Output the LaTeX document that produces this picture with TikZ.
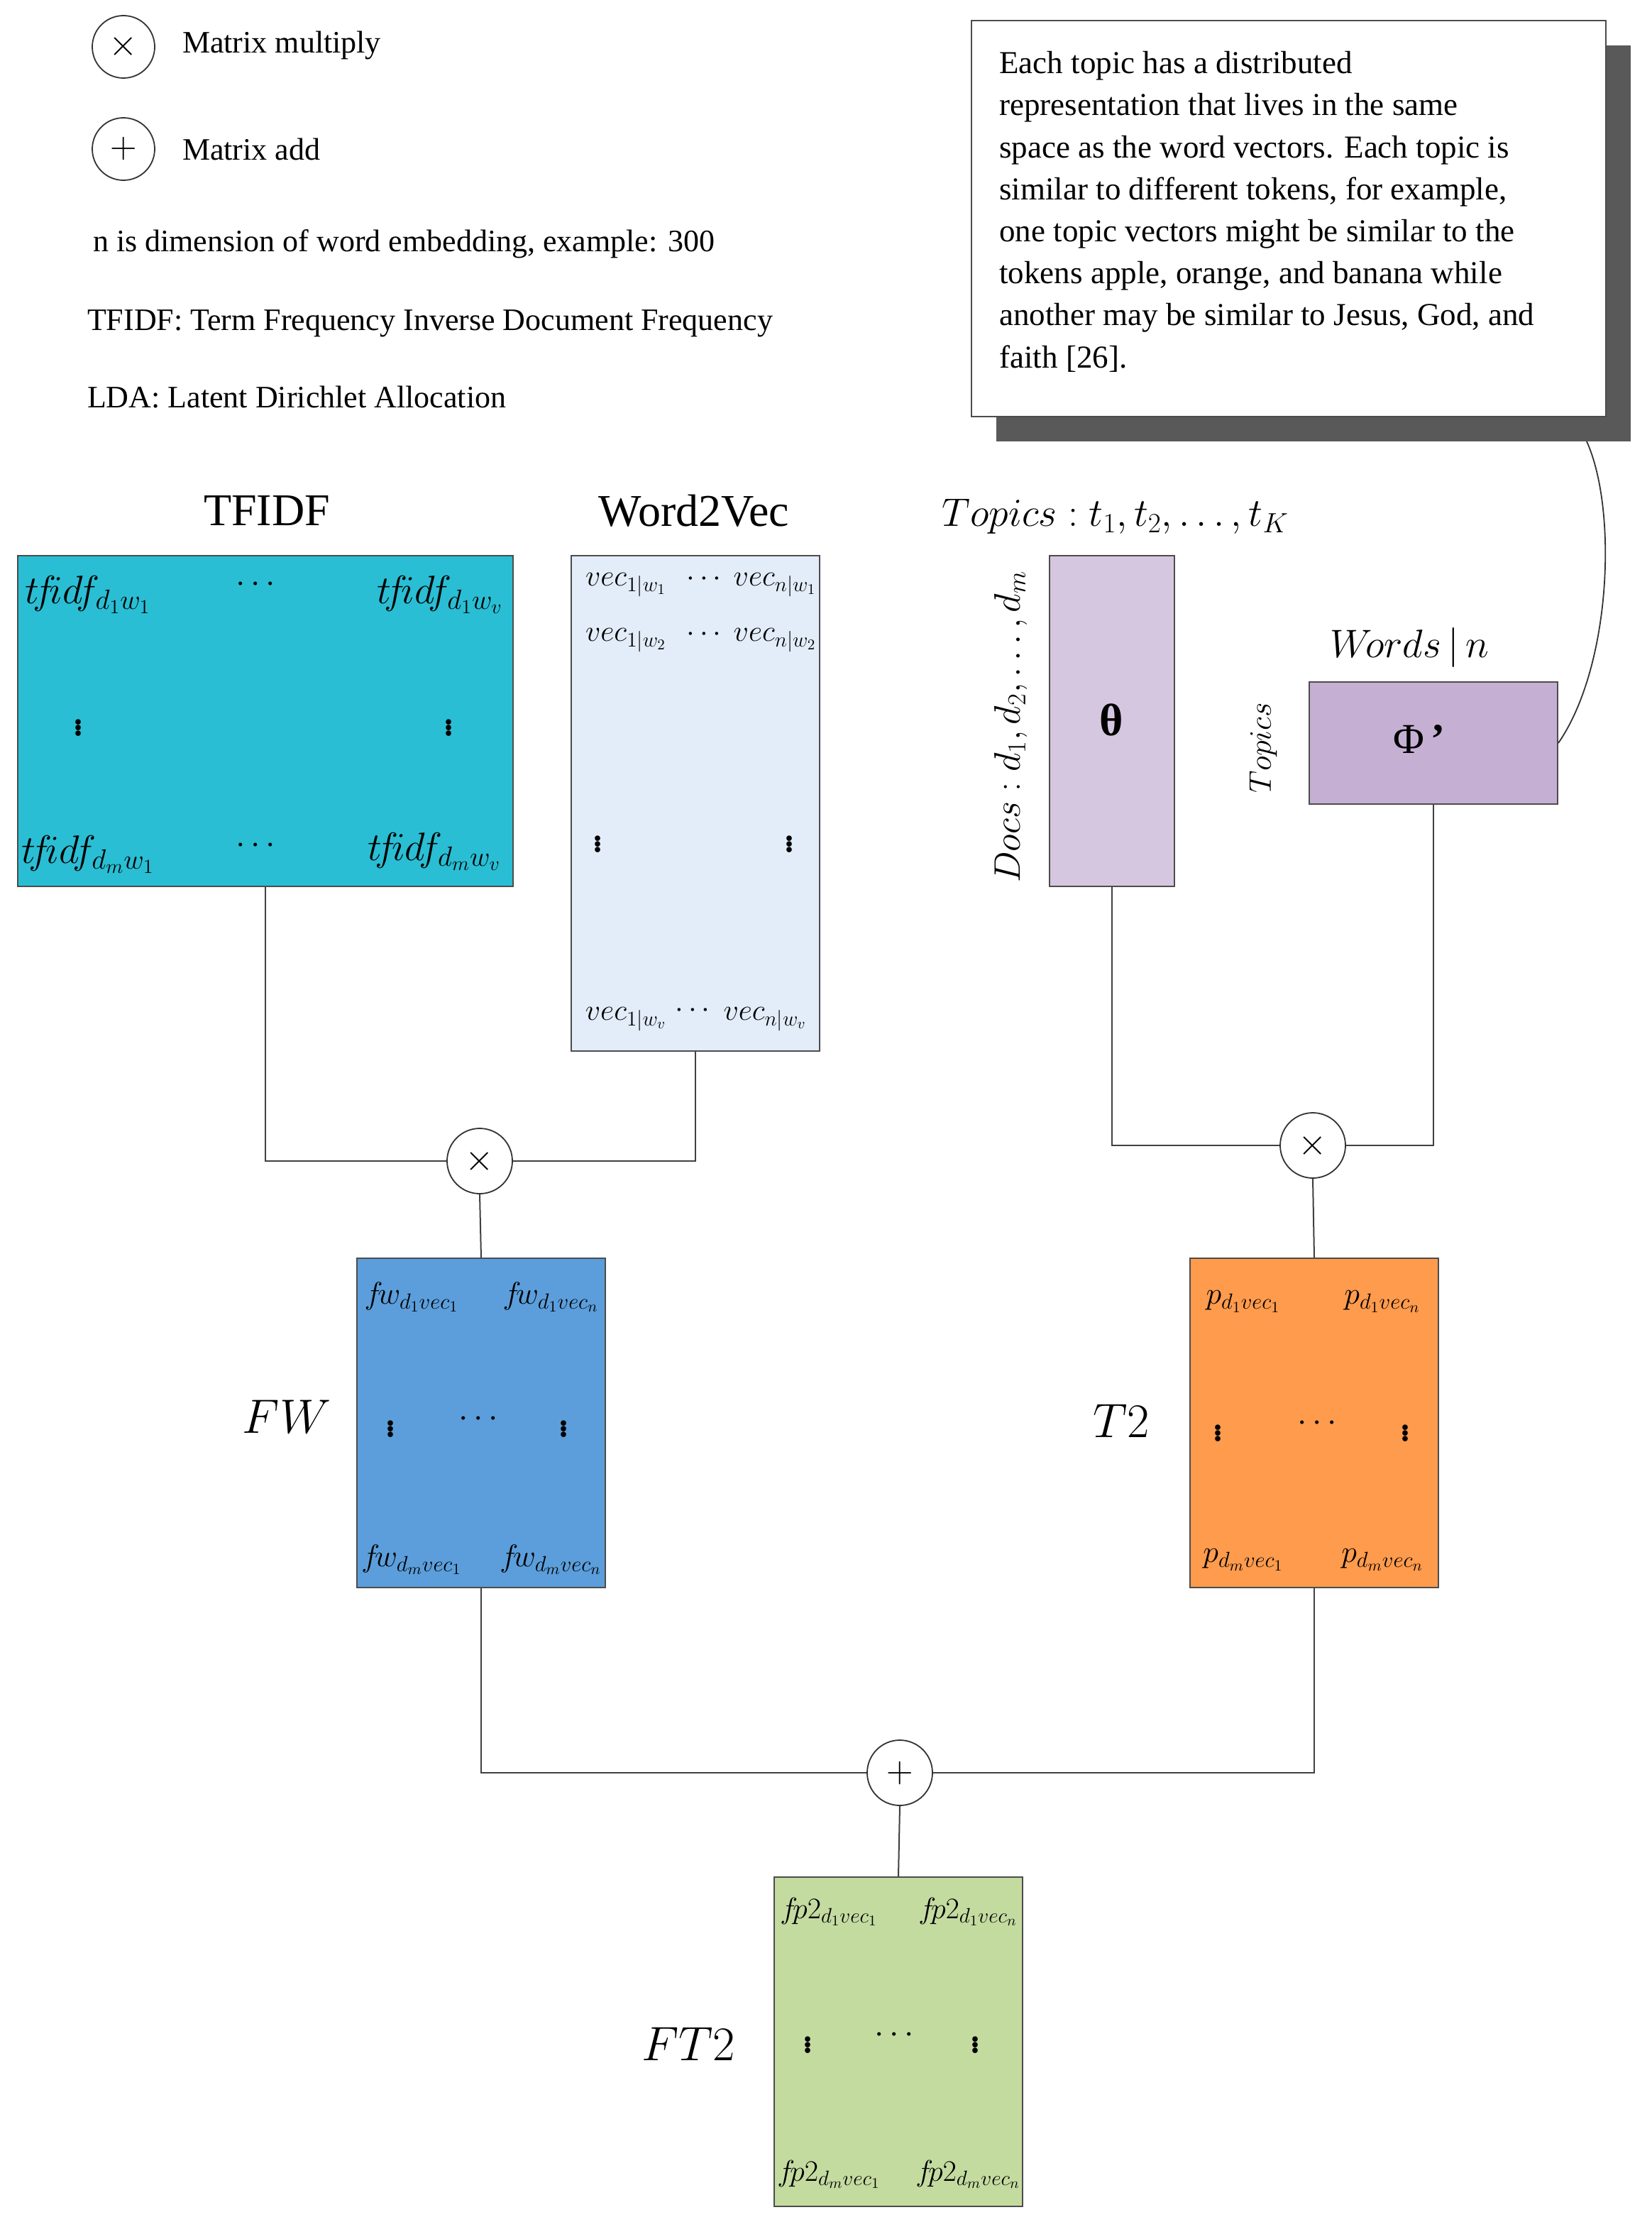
\RequirePackage{fix-cm}
\documentclass[tikz,border=0pt]{standalone}
\usepackage{fontspec}
\setmainfont{Liberation Serif}
\begin{document}
\begin{tikzpicture}[x=1pt,y=-1pt,
  mat/.style={draw=black!70,line width=1pt,anchor=north west,inner sep=0pt},
  op/.style={circle,draw=black!80,fill=white,line width=0.9pt,minimum size=46pt,inner sep=0pt},
  conn/.style={draw=black!75,line width=1pt},
  lbl/.style={font=\fontsize{22}{26}\selectfont,anchor=west},
  ent/.style={font=\fontsize{24}{28}\selectfont,inner sep=0pt}]
\useasboundingbox (0,0) rectangle (1164,1565.5);
% legend
\node[op,minimum size=44pt] (lm) at (87,33) {\fontsize{26}{26}\selectfont$\times$};
\node[lbl] (lmt) at (125,32) {Matrix multiply};
\node[op,minimum size=44pt] (la) at (87,105) {\fontsize{26}{26}\selectfont$+$};
\node[lbl] (lat) at (125,105) {Matrix add};
\node[lbl] (ln) at (62,172) {n is dimension of word embedding, example: 300};
\node[lbl] (lt) at (58,228) {TFIDF: Term Frequency Inverse Document Frequency};
\node[lbl] (ll) at (58,280) {LDA: Latent Dirichlet Allocation};
% callout
\fill[black!65] (702,32) rectangle (1149,311);
\node[draw=black!70,fill=white,line width=1pt,anchor=north west,minimum width=447pt,minimum height=279pt,inner sep=0pt] (call) at (684,14) {};
\node[anchor=north west,align=left,font=\fontsize{22.5}{29.6}\selectfont,inner sep=0pt] (callt) at (704,36) {Each topic has a distributed\\representation that lives in the same\\space as the word vectors. Each topic is\\similar to different tokens, for example,\\one topic vectors might be similar to the\\tokens apple, orange, and banana while\\another may be similar to Jesus, God, and\\faith [26].};
% titles
\node[font=\fontsize{32}{36}\selectfont] (t1) at (188,360) {TFIDF};
\node[font=\fontsize{32}{36}\selectfont] (t2) at (489,360) {Word2Vec};
\node[font=\fontsize{28}{34}\selectfont] (t3) at (786,364) {$Topics: t_1,t_2,\ldots,t_K$};
% TFIDF
\node[mat,fill={rgb,255:red,41;green,190;blue,212},minimum width=349pt,minimum height=233pt] (tf) at (12,391) {};
\node[ent,font=\fontsize{28}{30}\selectfont] at (62,419) {$t\!f\!id\!f_{d_1w_1}$};
\node[ent,font=\fontsize{28}{30}\selectfont] at (310,419) {$t\!f\!id\!f_{d_1w_v}$};
\node[ent,font=\fontsize{28}{30}\selectfont] at (62,602) {$t\!f\!id\!f_{d_mw_1}$};
\node[ent,font=\fontsize{28}{30}\selectfont] at (306,600) {$t\!f\!id\!f_{d_mw_v}$};
\node[ent] at (180,412) {$\cdots$};
\node[ent] at (180,596) {$\cdots$};
\node[ent,font=\fontsize{32}{32}\selectfont] at (55,510) {$\vdots$};
\node[ent,font=\fontsize{32}{32}\selectfont] at (316,510) {$\vdots$};
% Word2Vec
\node[mat,fill={rgb,255:red,227;green,237;blue,249},minimum width=175pt,minimum height=349pt] (wv) at (402,391) {};
\node[ent,font=\fontsize{21}{24}\selectfont] at (441,412) {$vec_{1|w_1}$};
\node[ent,font=\fontsize{21}{24}\selectfont] at (496,408) {$\cdots$};
\node[ent,font=\fontsize{21}{24}\selectfont] at (546,412) {$vec_{n|w_1}$};
\node[ent,font=\fontsize{21}{24}\selectfont] at (441,451) {$vec_{1|w_2}$};
\node[ent,font=\fontsize{21}{24}\selectfont] at (496,447) {$\cdots$};
\node[ent,font=\fontsize{21}{24}\selectfont] at (546,451) {$vec_{n|w_2}$};
\node[ent,font=\fontsize{32}{32}\selectfont] at (421,592) {$\vdots$};
\node[ent,font=\fontsize{32}{32}\selectfont] at (556,592) {$\vdots$};
\node[ent,font=\fontsize{21}{24}\selectfont] at (441,718) {$vec_{1|w_v}$};
\node[ent,font=\fontsize{21}{24}\selectfont] at (488,712) {$\cdots$};
\node[ent,font=\fontsize{21}{24}\selectfont] at (539,718) {$vec_{n|w_v}$};
% theta
\node[mat,fill={rgb,255:red,214;green,199;blue,224},minimum width=88pt,minimum height=233pt] (th) at (739,391) {};
\node[font=\fontsize{32}{32}\selectfont\bfseries] at (783,507) {θ};
\node[rotate=90,font=\fontsize{26}{30}\selectfont] (docs) at (712,512) {$Docs: d_1,d_2,\ldots,d_m$};
% phi
\node[mat,fill={rgb,255:red,197;green,176;blue,211},minimum width=175pt,minimum height=86pt] (ph) at (922,480) {};
\node[font=\fontsize{30}{30}\selectfont] at (1000,521) {Φ\,\textbf{'}};
\node[font=\fontsize{28}{30}\selectfont] (wn) at (993,456) {$W\!ords\,|\,n$};
\node[rotate=90,font=\fontsize{22}{24}\selectfont] (tp) at (890,527) {$Topics$};
\coordinate (cs) at (1118,311);
\draw[black!80,line width=0.9pt] (cs) .. controls (1140,360) and (1135,470) .. (ph.east);
% operators
\node[op] (m1) at (338,818) {\fontsize{26}{26}\selectfont$\times$};
\node[op] (m2) at (925,807) {\fontsize{26}{26}\selectfont$\times$};
\node[op] (ad) at (634,1249) {\fontsize{26}{26}\selectfont$+$};
\draw[conn] (tf.south) |- (m1.west);
\draw[conn] (wv.south) |- (m1.east);
\draw[conn] (th.south) |- (m2.west);
\draw[conn] (ph.south) |- (m2.east);
% FW
\node[mat,fill={rgb,255:red,91;green,158;blue,219},minimum width=175pt,minimum height=232pt] (fw) at (251,886) {};
\node[font=\fontsize{34}{36}\selectfont] (fwl) at (202,998) {$FW$};
\node[ent,font=\fontsize{22}{26}\selectfont] at (290,914) {$f\!w_{d_1vec_1}$};
\node[ent,font=\fontsize{22}{26}\selectfont] at (388,914) {$f\!w_{d_1vec_n}$};
\node[ent,font=\fontsize{22}{26}\selectfont] at (290,1099) {$f\!w_{d_mvec_1}$};
\node[ent,font=\fontsize{22}{26}\selectfont] at (388,1099) {$f\!w_{d_mvec_n}$};
\node[ent,font=\fontsize{32}{32}\selectfont] at (275,1004) {$\vdots$};
\node[ent,font=\fontsize{32}{32}\selectfont] at (397,1004) {$\vdots$};
\node[ent] at (337,1000) {$\cdots$};
% T2
\node[mat,fill={rgb,255:red,255;green,155;blue,77},minimum width=175pt,minimum height=232pt] (t2b) at (838,886) {};
\node[font=\fontsize{34}{36}\selectfont] (t2l) at (790,1001) {$T2$};
\node[ent,font=\fontsize{22}{26}\selectfont] at (876,917) {$p_{d_1vec_1}$};
\node[ent,font=\fontsize{22}{26}\selectfont] at (974,917) {$p_{d_1vec_n}$};
\node[ent,font=\fontsize{22}{26}\selectfont] at (876,1099) {$p_{d_mvec_1}$};
\node[ent,font=\fontsize{22}{26}\selectfont] at (974,1099) {$p_{d_mvec_n}$};
\node[ent,font=\fontsize{32}{32}\selectfont] at (858,1007) {$\vdots$};
\node[ent,font=\fontsize{32}{32}\selectfont] at (990,1007) {$\vdots$};
\node[ent] at (928,1003) {$\cdots$};
\draw[conn] (m1.south) -- (fw.north);
\draw[conn] (m2.south) -- (t2b.north);
\draw[conn] (fw.south) |- (ad.west);
\draw[conn] (t2b.south) |- (ad.east);
% FT2
\node[mat,fill={rgb,255:red,196;green,219;blue,160},minimum width=175pt,minimum height=232pt] (ft) at (545,1322) {};
\node[font=\fontsize{34}{36}\selectfont] (ftl) at (485,1440) {$FT2$};
\draw[conn] (ad.south) -- (ft.north);
\node[ent,font=\fontsize{21}{26}\selectfont] at (584,1347) {$f\!p2_{d_1vec_1}$};
\node[ent,font=\fontsize{21}{26}\selectfont] at (682,1347) {$f\!p2_{d_1vec_n}$};
\node[ent,font=\fontsize{21}{26}\selectfont] at (584,1532) {$f\!p2_{d_mvec_1}$};
\node[ent,font=\fontsize{21}{26}\selectfont] at (682,1532) {$f\!p2_{d_mvec_n}$};
\node[ent,font=\fontsize{32}{32}\selectfont] at (569,1438) {$\vdots$};
\node[ent,font=\fontsize{32}{32}\selectfont] at (687,1438) {$\vdots$};
\node[ent] at (630,1434) {$\cdots$};
\end{tikzpicture}
\end{document}
